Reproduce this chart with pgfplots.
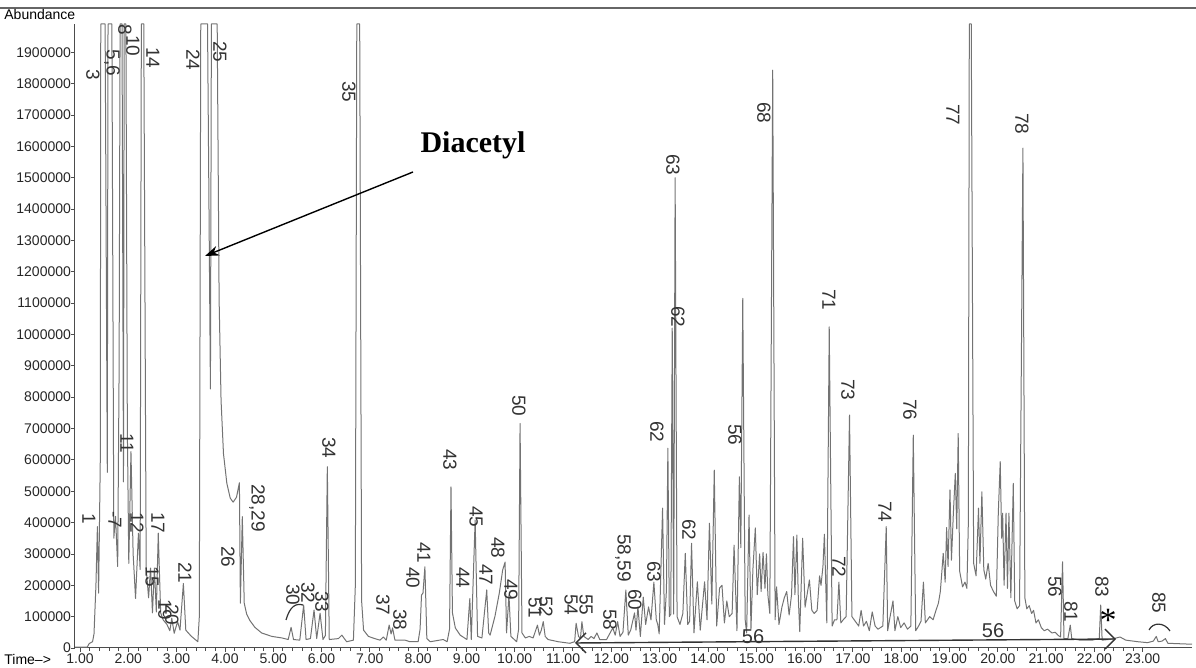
\documentclass[border=0pt]{standalone}
\usepackage{pgfplots}
\pgfplotsset{compat=1.18}
\usepackage{fontspec}
\setmainfont{Liberation Sans}
\newfontfamily\serif{Liberation Serif}
\usetikzlibrary{arrows.meta}

\begin{document}
\begin{tikzpicture}
\useasboundingbox (0,0) rectangle (598pt,334pt);
\begin{axis}[
    at={(37.5pt,10pt)}, anchor=south west,
    scale only axis, width=558.5pt, height=312pt,
    xmin=0.8965, xmax=24.02, ymin=0, ymax=1990000,
    axis x line*=bottom, axis y line*=left,
    axis line style={black!70, line width=0.5pt, -},
    xtick={1,2,3,4,5,6,7,8,9,10,11,12,13,14,15,16,17,18,19,20,21,22,23},
    minor x tick num=4,
    ytick={0,100000,200000,300000,400000,500000,600000,700000,800000,900000,1000000,1100000,1200000,1300000,1400000,1500000,1600000,1700000,1800000,1900000},
    tick align=outside, major tick length=2pt, minor tick length=1.5pt,
    tick style={black!70, line width=0.4pt},
    xticklabel={\pgfmathprintnumber[fixed,fixed zerofill,precision=2]{\tick}},
    yticklabel style={/pgf/number format/fixed, /pgf/number format/1000 sep={}, xshift=3.5pt},
    xticklabel style={yshift=2.5pt},
    scaled y ticks=false,
    tick label style={font=\fontsize{7}{8}\selectfont, black!85},
    /pgf/number format/assume math mode=true,
]
\addplot[black!55, line width=0.5pt, line join=round, mark=none] coordinates {
(0.90,3000) (1.15,3000) (1.19,14000) (1.26,20000) (1.29,45000) (1.33,200000) (1.36,387000) (1.385,175000)
(1.42,600000) (1.43,1990000) (1.52,1990000) (1.565,560000) (1.58,1990000) (1.66,1990000)
(1.70,350000) (1.735,420000) (1.78,260000) (1.81,900000) (1.83,1990000) (1.87,1990000) (1.90,530000)
(1.915,1990000) (1.95,1990000) (1.98,700000) (2.01,270000) (2.055,626000) (2.10,300000) (2.15,158000)
(2.21,366000) (2.245,250000) (2.27,1990000) (2.32,1990000) (2.37,255000) (2.42,160000) (2.46,255000)
(2.50,112000) (2.54,255000) (2.58,115000) (2.62,366000) (2.67,112000) (2.72,90000) (2.80,75000)
(2.86,55000) (2.90,95000) (2.95,47000) (3.02,84000) (3.07,57000) (3.14,206000) (3.19,57000)
(3.30,38000) (3.44,20000) (3.47,100000) (3.50,1990000) (3.64,1990000) (3.70,826000) (3.72,1990000)
(3.84,1990000) (3.88,1110000) (3.92,790000) (3.97,620000) (4.04,525000) (4.11,478000) (4.17,465000)
(4.24,481000) (4.30,527000) (4.32,143000) (4.36,419000) (4.40,143000) (4.45,108000) (4.52,87000)
(4.62,66000) (4.76,48000) (4.97,37000) (5.18,32000) (5.31,27000) (5.37,66000) (5.42,27000)
(5.55,25000) (5.63,137000) (5.68,27000) (5.77,30000) (5.845,121000) (5.90,30000) (5.97,111000)
(6.03,27000) (6.08,40000) (6.12,578000) (6.16,27000) (6.35,30000) (6.42,41000) (6.52,20000)
(6.66,25000) (6.70,200000) (6.73,1990000) (6.79,1990000) (6.83,150000) (6.87,57000) (6.97,37000)
(7.10,30000) (7.21,25000) (7.28,35000) (7.34,25000) (7.40,73000) (7.44,45000) (7.47,64000)
(7.52,25000) (7.73,25000) (7.83,20000) (8.00,20000) (8.04,60000) (8.07,169000) (8.10,175000)
(8.14,259000) (8.18,30000) (8.25,20000) (8.52,27000) (8.60,20000) (8.65,60000) (8.68,514000)
(8.71,112000) (8.77,64000) (8.87,41000) (9.01,27000) (9.07,158000) (9.10,27000) (9.18,408000)
(9.23,37000) (9.32,32000) (9.42,185000) (9.46,48000) (9.49,41000) (9.59,101000) (9.68,175000)
(9.75,249000) (9.80,274000) (9.83,48000) (9.88,169000) (9.92,37000) (10.04,20000) (10.08,60000)
(10.11,716000) (10.15,48000) (10.22,32000) (10.30,37000) (10.38,32000) (10.47,73000) (10.51,41000)
(10.55,57000) (10.59,84000) (10.63,37000) (10.69,27000) (10.90,20000) (11.14,15000) (11.24,20000)
(11.27,79000) (11.32,37000) (11.36,30000) (11.39,84000) (11.43,37000) (11.52,27000) (11.58,37000)
(11.64,30000) (11.70,48000) (11.76,27000) (11.90,27000) (12.03,64000) (12.08,41000) (12.13,84000)
(12.18,37000) (12.24,50000) (12.30,185000) (12.35,41000) (12.40,57000) (12.48,112000) (12.51,57000)
(12.55,131000) (12.60,37000) (12.66,162000) (12.71,75000) (12.77,131000) (12.82,90000) (12.88,210000)
(12.93,90000) (12.96,75000) (12.99,45000) (13.06,446000) (13.10,75000) (13.14,185000) (13.17,637000)
(13.20,100000) (13.23,108000) (13.26,1020000) (13.29,108000) (13.32,1500000) (13.36,100000)
(13.42,75000) (13.48,110000) (13.53,302000) (13.58,75000) (13.62,85000) (13.66,334000) (13.71,48000)
(13.78,211000) (13.84,57000) (13.93,211000) (13.98,90000) (14.03,398000) (14.08,140000) (14.13,567000)
(14.18,70000) (14.24,191000) (14.29,200000) (14.34,80000) (14.39,150000) (14.44,100000) (14.50,110000)
(14.54,328000) (14.60,55000) (14.65,546000) (14.68,320000) (14.72,1115000) (14.77,90000) (14.80,48000)
(14.85,424000) (14.89,60000) (14.93,250000) (14.98,383000) (15.02,170000) (15.07,300000) (15.10,180000)
(15.14,305000) (15.18,190000) (15.21,300000) (15.24,170000) (15.28,110000) (15.34,1843000) (15.39,90000)
(15.42,195000) (15.47,75000) (15.53,130000) (15.58,160000) (15.63,180000) (15.68,105000) (15.73,170000)
(15.77,355000) (15.80,170000) (15.84,360000) (15.87,160000) (15.90,52000) (15.96,350000) (16.01,130000)
(16.10,217000) (16.15,120000) (16.20,110000) (16.26,120000) (16.31,230000) (16.34,200000) (16.38,260000)
(16.41,363000) (16.46,80000) (16.51,1024000) (16.57,70000) (16.62,90000) (16.67,90000) (16.71,210000)
(16.75,80000) (16.80,90000) (16.86,100000) (16.93,743000) (16.98,100000) (17.05,85000) (17.12,70000)
(17.17,120000) (17.22,70000) (17.28,85000) (17.34,55000) (17.40,115000) (17.46,70000) (17.52,60000)
(17.62,70000) (17.69,387000) (17.72,55000) (17.77,100000) (17.83,150000) (17.87,55000) (17.93,100000)
(17.99,65000) (18.06,80000) (18.13,60000) (18.20,70000) (18.25,679000) (18.30,55000) (18.36,70000)
(18.41,85000) (18.46,210000) (18.50,80000) (18.59,100000) (18.66,90000) (18.72,120000) (18.77,143000)
(18.81,180000) (18.84,240000) (18.87,302000) (18.91,210000) (18.94,384000) (18.97,260000) (19.01,504000)
(19.04,280000) (19.08,430000) (19.12,557000) (19.15,380000) (19.18,684000) (19.21,245000) (19.27,195000)
(19.32,210000) (19.36,190000) (19.39,400000) (19.41,1990000) (19.45,1990000) (19.50,270000) (19.55,230000)
(19.60,446000) (19.63,270000) (19.67,498000) (19.71,250000) (19.75,220000) (19.80,270000) (19.85,200000)
(19.91,180000) (19.97,165000) (20.01,430000) (20.05,594000) (20.08,350000) (20.10,430000) (20.13,200000)
(20.17,430000) (20.20,190000) (20.23,430000) (20.27,160000) (20.32,525000) (20.35,150000) (20.40,125000)
(20.45,135000) (20.52,1594000) (20.56,160000) (20.60,125000) (20.65,135000) (20.70,110000) (20.74,120000)
(20.79,80000) (20.84,90000) (20.90,65000) (20.96,55000) (21.03,60000) (21.12,48000) (21.19,50000)
(21.25,40000) (21.30,35000) (21.34,275000) (21.37,30000) (21.45,30000) (21.50,73000) (21.53,30000)
(21.70,25000) (21.95,25000) (22.10,30000) (22.13,137000) (22.16,25000) (22.35,28000) (22.53,35000)
(22.65,25000) (22.90,20000) (23.10,17000) (23.22,22000) (23.28,37000) (23.32,20000) (23.40,22000)
(23.47,30000) (23.52,15000) (24.02,12000)
};
\end{axis}
% annotations, in pixel units of the 1196x668 reference
\begin{scope}[x=0.5pt, y=-0.5pt, shift={(0pt,334pt)},
    hw/.style={rotate=-90, font=\fontsize{9.5}{9.5}\selectfont, text=black!80, inner sep=0pt}]
\draw[black!60, line width=0.6pt] (0,8) -- (1196,8);
\node[anchor=west, font=\fontsize{7}{8}\selectfont, inner sep=0pt] at (4,15) {Abundance};
\node[anchor=west, font=\fontsize{7}{8}\selectfont, inner sep=0pt] at (4,660) {Time-->};
\node[font=\serif\bfseries\fontsize{15}{15}\selectfont, inner sep=0pt] at (473,145) {Diacetyl};
\draw[-{Stealth[length=7pt,width=5pt]}, line width=0.7pt] (413,172) -- (205,256);
\foreach \t/\x/\y in {1/89/519, 3/93/75, {5,6}/112/63, 8/125/30, 10/133/46, 14/153/58, 24/193/60, 25/220/52,
  -7/115/520, 11/127/443, 12/137/523, 15/152/577, 17/158/523, 19/165/610, 20/172/615, 21/185/573,
  26/228/557, {28,29}/257/508, 30/293/595, 32/308/593, 33/322/602, 34/329/448, 35/349/92,
  37/383/605, 38/400/620, 40/413/578, 41/424/553, 43/450/460, 44/463/578, 45/476/517,
  47/486/575, 48/498/548, 49/511/590, 50/519/406, 51/535/608, 52/546/607, 54/571/605,
  55/586/605, 58/610/620, {58,59}/623/558, 60/635/600, 63/654/572, 62/657/432, 62/678/317,
  62/689/530, 63/673/165, 56/735/435, 68/764/113, 71/829/300, 72/839/567, 73/848/390,
  74/885/512, 76/910/410, 77/953/115, 78/1022/124, 56/1055/587, 81/1071/612, 83/1102/587, 85/1159/603}
  {\node[hw] at (\x,\y) {\t};}
\node[font=\fontsize{10}{10}\selectfont, text=black!80, inner sep=0pt] at (753,637) {56};
\node[font=\fontsize{10}{10}\selectfont, text=black!80, inner sep=0pt] at (993,631) {56};
\node[font=\serif\fontsize{17}{17}\selectfont, inner sep=0pt] at (1108,620) {*};
\draw[black!80, line width=0.7pt, {Straight Barb[length=5pt]}-{Straight Barb[length=5pt]}] (575,643) -- (1116,639);
\draw[black!80, line width=0.6pt] (286,620) .. controls (290,606) and (296,603) .. (303,605);
\draw[black!80, line width=0.6pt] (1149,630) .. controls (1153,622) and (1164,622) .. (1170,631);
\end{scope}
\end{tikzpicture}
\end{document}
